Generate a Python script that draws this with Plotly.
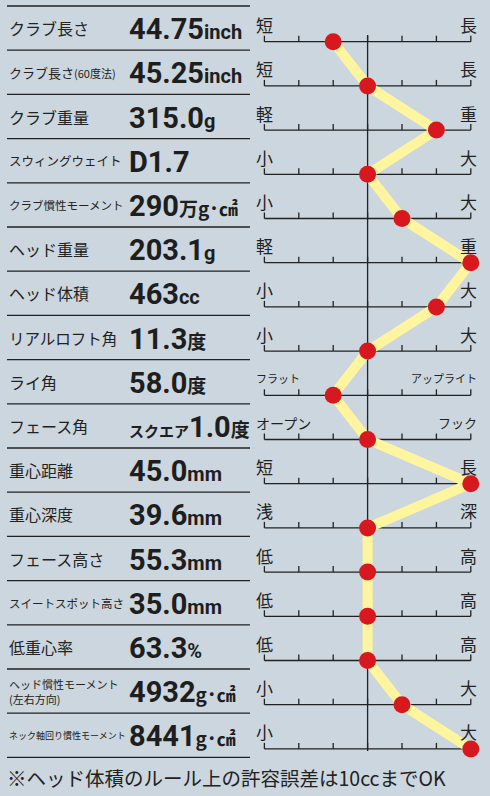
import plotly.graph_objects as go

# ---- data ----
labels = ["クラブ長さ", "クラブ長さ(60度法)", "クラブ重量", "スウィングウェイト",
          "クラブ慣性モーメント", "ヘッド重量", "ヘッド体積", "リアルロフト角", "ライ角",
          "フェース角", "重心距離", "重心深度", "フェース高さ", "スイートスポット高さ",
          "低重心率", "ヘッド慣性モーメント(左右方向)", "ネック軸回り慣性モーメント"]
prefixes = ["", "", "", "D", "", "", "", "", "", "スクエア", "", "", "", "", "", "", ""]
numbers = ["44.75", "45.25", "315.0", "1.7", "290", "203.1", "463", "11.3", "58.0",
           "1.0", "45.0", "39.6", "55.3", "35.0", "63.3", "4932", "8441"]
units = ["inch", "inch", "g", "", "万g･㎠", "g", "cc", "度", "度", "度",
         "mm", "mm", "mm", "mm", "%", "g･㎠", "g･㎠"]
left_ends = ["短", "短", "軽", "小", "小", "軽", "小", "小", "フラット", "オープン",
             "短", "浅", "低", "低", "低", "小", "小"]
right_ends = ["長", "長", "重", "大", "大", "重", "大", "大", "アップライト", "フック",
              "長", "深", "高", "高", "高", "大", "大"]
scores = [-1, 0, 2, 0, 1, 3, 2, 0, -1, 0, 3, 0, 0, 0, 0, 1, 3]
ticks = [-3, -2, -1, 0, 1, 2, 3]
footnote = "※ヘッド体積のルール上の許容誤差は10ccまでOK"

W, H = 490, 796
BG = "#cbd6de"
JP = "Noto Sans CJK JP"
NUM = "Roboto"

# pixel geometry
row_h = 44.2
top_line = 6
axis_off = 41.7          # pixel y of first scale line
zero_px, unit_px = 367.6, 34.4
n = len(labels)

rows = list(range(n))

def px(x):
    return x / W

def py(y):
    return 1 - y / H

fig = go.Figure()

# yellow connecting band
fig.add_trace(go.Scatter(x=scores, y=rows, mode="lines",
                         line=dict(color="#fff59e", width=10),
                         hoverinfo="skip", showlegend=False))
# red dots
fig.add_trace(go.Scatter(x=scores, y=rows, mode="markers",
                         marker=dict(color="#d7191f", size=17, line=dict(width=0)),
                         hoverinfo="skip", showlegend=False, cliponaxis=False))

shapes = []
# table row separators
for k in range(n + 1):
    y = top_line + row_h * k
    shapes.append(dict(type="line", xref="paper", yref="paper",
                       x0=px(7), x1=px(250), y0=py(y), y1=py(y),
                       line=dict(color="#222", width=1.3)))
# scales
tick_len = 6 / row_h
for i in rows:
    shapes.append(dict(type="line", xref="x", yref="y", x0=ticks[0], x1=ticks[-1],
                       y0=i, y1=i, line=dict(color="#222", width=1.3), layer="below"))
    for t in ticks:
        shapes.append(dict(type="line", xref="x", yref="y", x0=t, x1=t,
                           y0=i, y1=i - tick_len, line=dict(color="#222", width=1.3),
                           layer="below"))
# centre line
shapes.append(dict(type="line", xref="x", yref="y", x0=0, x1=0,
                   y0=-0.15, y1=n - 1 + 0.05, line=dict(color="#222", width=1.3),
                   layer="below"))

ann = []
label_sizes = [16, 13, 16, 12.5, 11.5, 16, 16, 15.5, 16, 16, 16, 16, 16, 11.5, 16, 11, 9]
end_sizes = {"フラット": 11, "アップライト": 11, "オープン": 14, "フック": 13}
for i, lab in enumerate(labels):
    yc = top_line + row_h * i + row_h / 2
    size = label_sizes[i]
    if lab.endswith("(左右方向)"):
        # two-line label, one annotation per line
        for part, dy in ((lab[:-6], -7.5), (lab[-6:], 7.5)):
            ann.append(dict(x=px(7), y=py(yc + dy), xref="paper", yref="paper",
                            text=part, showarrow=False, xanchor="left",
                            yanchor="middle", font=dict(family=JP, size=size,
                                                        color="#222")))
    else:
        if lab.endswith("(60度法)"):
            txt = lab[:-6] + '<span style="font-size:11px">(60度法)</span>'
        else:
            txt = lab
        ann.append(dict(x=px(7), y=py(yc), xref="paper", yref="paper", text=txt,
                        showarrow=False, xanchor="left", yanchor="middle",
                        font=dict(family=JP, size=size, color="#222")))
    pre = prefixes[i]
    if pre and pre != "D":
        pre_html = f'<span style="font-family:{JP};font-size:15px">{pre}</span>'
    else:
        pre_html = pre
    u = units[i]
    if u and any(ord(c) > 255 for c in u):
        u_html = f'<span style="font-family:{JP};font-size:19px">{u}</span>'
    else:
        u_html = f'<span style="font-size:20px">{u}</span>'
    ann.append(dict(x=px(127), y=py(yc + 1), xref="paper", yref="paper",
                    text=f"<b>{pre_html}{numbers[i]}{u_html}</b>",
                    showarrow=False, xanchor="left", yanchor="middle",
                    font=dict(family=NUM, size=29, color="#1e1e1e")))
    # scale end labels
    ys = axis_off + row_h * i - 17
    ls = end_sizes.get(left_ends[i], 17)
    rs = end_sizes.get(right_ends[i], 17)
    ann.append(dict(x=px(254), y=py(ys), xref="paper", yref="paper", text=left_ends[i],
                    showarrow=False, xanchor="left", yanchor="middle",
                    font=dict(family=JP, size=ls, color="#222")))
    ann.append(dict(x=px(479), y=py(ys), xref="paper", yref="paper", text=right_ends[i],
                    showarrow=False, xanchor="right", yanchor="middle",
                    font=dict(family=JP, size=rs, color="#222")))

ann.append(dict(x=px(5), y=py(777), xref="paper", yref="paper", text=footnote,
                showarrow=False, xanchor="left", yanchor="middle",
                font=dict(family=JP, size=19.5, color="#222")))

fig.update_layout(
    width=W, height=H,
    margin=dict(l=0, r=0, t=0, b=0),
    paper_bgcolor=BG, plot_bgcolor=BG,
    shapes=shapes, annotations=ann,
    xaxis=dict(range=[-zero_px / unit_px, (W - zero_px) / unit_px], visible=False,
               fixedrange=True),
    yaxis=dict(range=[(H - axis_off) / row_h, -axis_off / row_h], visible=False,
               fixedrange=True),
    showlegend=False,
)

fig.write_html("out.html", config={"displayModeBar": False},
               post_script="document.body.style.margin='0';"
                           "document.body.style.background='#cbd6de';")
